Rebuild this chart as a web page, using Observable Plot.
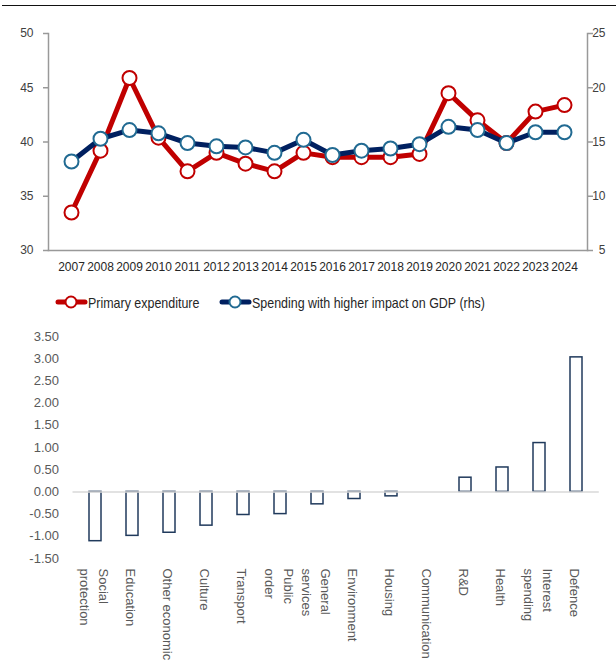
<!DOCTYPE html>
<html><head><meta charset="utf-8">
<script src="https://cdn.jsdelivr.net/npm/d3@7"></script>
<script src="https://cdn.jsdelivr.net/npm/@observablehq/plot@0.6"></script>
<style>
body{margin:0;width:616px;height:661px;overflow:hidden;background:#fff;position:relative;font-family:"Liberation Sans",Arial,sans-serif}
#rule{position:absolute;left:2px;top:5px;width:614px;height:0;border-top:1.5px solid #111}
#topchart{position:absolute;left:0;top:0}
#legend{position:absolute;top:293px;left:0;width:616px;height:18px;font-family:"Liberation Sans",Arial,sans-serif;font-size:15px;color:#262626;white-space:nowrap}
#legend .item{position:absolute;top:0;display:flex;align-items:center;height:18px}
#legend svg{display:block;flex:none}
#legend span{display:inline-block;transform:scaleX(0.83);transform-origin:0 50%}
#bottomchart{position:absolute;left:0;top:320px}
</style></head><body>
<div id="rule"></div>
<div id="topchart"></div>
<div id="legend"></div>
<div id="bottomchart"></div>
<script>
// ---- Top chart data ----
const years = [2007,2008,2009,2010,2011,2012,2013,2014,2015,2016,2017,2018,2019,2020,2021,2022,2023,2024];
const primaryExpenditure = [33.5,39.2,45.9,40.4,37.3,39.0,38.0,37.3,39.0,38.6,38.6,38.6,38.9,44.5,42.0,39.9,42.8,43.4];
const higherImpact = [13.2,15.3,16.1,15.8,14.9,14.6,14.5,14.0,15.2,13.8,14.2,14.4,14.8,16.4,16.1,14.9,15.9,15.9];
const leftTicks = [30,35,40,45,50];
const rightTicks = [5,10,15,20,25];
const seriesNames = ["Primary expenditure","Spending with higher impact on GDP (rhs)"];

// ---- Bottom chart data ----
const categories = ["Social\nprotection","Education","Other economic","Culture","Transport","Public\norder","General\nservices","Environment","Housing","Communication","R&D","Health","Interest\nspending","Defence"];
const changes = [-1.11,-0.99,-0.92,-0.76,-0.52,-0.50,-0.28,-0.16,-0.10,0,0.32,0.55,1.10,3.03];
const barTicks = [-1.5,-1,-0.5,0,0.5,1,1.5,2,2.5,3,3.5];

const RED = "#C00000", NAVY = "#002060", TEAL = "#216A92", AXIS = "#999999";

const L = [leftTicks[0], leftTicks[leftTicks.length-1]];
const R = [rightTicks[0], rightTicks[rightTicks.length-1]];
const toLeft = v => L[0] + (v - R[0]) * (L[1]-L[0]) / (R[1]-R[0]);
const fromLeft = v => R[0] + (v - L[0]) * (R[1]-R[0]) / (L[1]-L[0]);

const rows = years.map((y,i) => ({year: String(y), primary: primaryExpenditure[i], impact: toLeft(higherImpact[i])}));

const topPlot = Plot.plot({
  width: 616, height: 285,
  marginTop: 33, marginBottom: 35, marginLeft: 48, marginRight: 29,
  style: {fontFamily: "Liberation Sans, Arial, sans-serif", fontSize: "12px", color: "#404040", background: "transparent"},
  x: {type: "point", domain: years.map(String), padding: 0.5, label: null},
  y: {domain: L, label: null},
  marks: [
    Plot.frame({anchor: "left", stroke: AXIS, strokeWidth: 1.5}),
    Plot.frame({anchor: "right", stroke: AXIS, strokeWidth: 1.5}),
    Plot.frame({anchor: "bottom", stroke: AXIS, strokeWidth: 1.5}),
    Plot.axisY({ticks: leftTicks, tickSize: 5, tickPadding: 10, stroke: AXIS, strokeWidth: 1.5, fill: "#404040", label: null}),
    Plot.axisY({anchor: "right", ticks: leftTicks, tickFormat: d => String(fromLeft(d)), tickSize: 5, tickPadding: 13, textAnchor: "end", stroke: AXIS, strokeWidth: 1.5, fill: "#404040", label: null}),
    Plot.axisX({tickSize: 0, tickPadding: 12, fill: "#262626", label: null}),
    Plot.line(rows, {x: "year", y: "primary", stroke: RED, strokeWidth: 5, strokeLinejoin: "round", strokeLinecap: "round"}),
    Plot.dot(rows, {x: "year", y: "primary", r: 7, fill: "white", stroke: RED, strokeWidth: 2}),
    Plot.line(rows, {x: "year", y: "impact", stroke: NAVY, strokeWidth: 5, strokeLinejoin: "round", strokeLinecap: "round"}),
    Plot.dot(rows, {x: "year", y: "impact", r: 7, fill: "white", stroke: TEAL, strokeWidth: 2})
  ]
});
document.getElementById("topchart").appendChild(topPlot);

// ---- Legend ----
const legend = document.getElementById("legend");
const legendItems = [
  {name: seriesNames[0], line: RED, marker: RED, left: 55},
  {name: seriesNames[1], line: NAVY, marker: TEAL, left: 219}
];
legendItems.forEach(it => {
  const div = document.createElement("div");
  div.className = "item";
  div.style.left = it.left + "px";
  div.innerHTML = `<svg width="33" height="16"><line x1="3" y1="8" x2="30" y2="8" stroke="${it.line}" stroke-width="5" stroke-linecap="round"/><circle cx="16" cy="8" r="5.5" fill="white" stroke="${it.marker}" stroke-width="2"/></svg><span>${it.name}</span>`;
  legend.appendChild(div);
});

// ---- Bottom chart ----
const bars = categories.map((c,i) => ({cat: c, value: changes[i]}));
const bottomPlot = Plot.plot({
  width: 616, height: 360,
  marginTop: 16, marginBottom: 122, marginLeft: 72.5, marginRight: 17.2,
  style: {fontFamily: "Liberation Sans, Arial, sans-serif", fontSize: "13px", color: "#595959", background: "transparent"},
  x: {type: "band", domain: categories, paddingInner: 0.67, paddingOuter: 0.335, label: null, axis: null},
  y: {domain: [barTicks[0], barTicks[barTicks.length-1]], label: null},
  marks: [
    Plot.axisY({ticks: barTicks, tickSize: 0, tickPadding: 14, tickFormat: d => d.toFixed(2), fill: "#595959", label: null}),
    Plot.barY(bars, {x: "cat", y: "value", fill: "white", stroke: "#203A5C", strokeWidth: 1.5}),
    Plot.ruleY([0], {stroke: "#D9D9D9", strokeWidth: 1.5}),
    Plot.text(categories, {x: d => d, text: d => d, frameAnchor: "bottom", rotate: 90, textAnchor: "start", lineAnchor: "middle", lineHeight: 1.45, dy: 10, fill: "#595959", fontSize: 13, ariaLabel: "cat-labels"})
  ]
});
document.getElementById("bottomchart").appendChild(bottomPlot);

// center multi-line labels within their block, as in the reference
bottomPlot.querySelectorAll('g[aria-label="cat-labels"] text').forEach(t => {
  const spans = Array.from(t.querySelectorAll("tspan"));
  if (spans.length < 2) return;
  const w = Math.max(...spans.map(s => s.getComputedTextLength()));
  spans.forEach(s => s.setAttribute("x", w / 2));
  t.setAttribute("text-anchor", "middle");
});
</script>
</body></html>
